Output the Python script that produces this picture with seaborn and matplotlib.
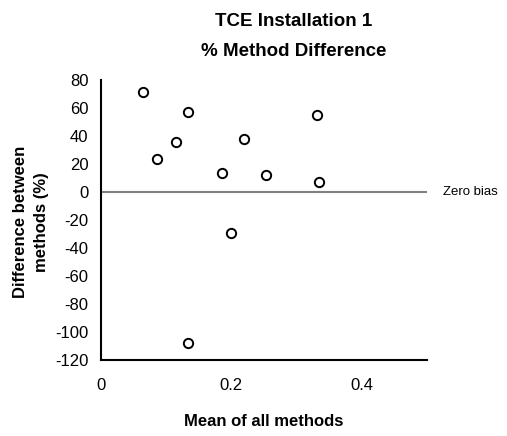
import numpy as np
import pandas as pd
import matplotlib
matplotlib.use("Agg")
import matplotlib.pyplot as plt
import seaborn as sns

# ==========================================================
# DATA
# ==========================================================

mean_of_methods = [0.064, 0.086, 0.115, 0.133, 0.186, 0.199,
                   0.219, 0.253, 0.332, 0.334, 0.133]

pct_difference = [71.4, 23.6, 35.3, 57.1, 13.1, -29.7,
                  37.9, 11.9, 54.8, 6.7, -107.6]

x_ticks = [0, 0.2, 0.4]
x_tick_labels = ["0", "0.2", "0.4"]
y_ticks = [-120, -100, -80, -60, -40, -20, 0, 20, 40, 60, 80]

df = pd.DataFrame({
    "mean": mean_of_methods,
    "diff": pct_difference
})

# ==========================================================
# STYLE
# ==========================================================

sns.set_style("white")
plt.rcParams["font.family"] = ["Liberation Sans", "DejaVu Sans"]
plt.rcParams["axes.unicode_minus"] = False
plt.rcParams["text.color"] = "black"
plt.rcParams["xtick.color"] = "black"
plt.rcParams["ytick.color"] = "black"
plt.rcParams["xtick.labelcolor"] = "black"
plt.rcParams["ytick.labelcolor"] = "black"

fig = plt.figure(figsize=(5.07, 4.36), dpi=100)

ax = fig.add_axes([
    101 / 507,
    1 - 360 / 436,
    (427 - 101) / 507,
    (360 - 79.7) / 436
])

# zero bias line
ax.axhline(0, color="#808080", lw=1.5, zorder=1)

sns.scatterplot(
    data=df,
    x="mean",
    y="diff",
    ax=ax,
    marker="o",
    s=45,
    facecolor="white",
    edgecolor="black",
    linewidth=1.4,
    zorder=3
)

ax.set_xlim(0, 0.5)
ax.set_ylim(-120, 80)

ax.set_xticks(x_ticks)
ax.set_xticklabels(x_tick_labels)
ax.set_yticks(y_ticks)

ax.tick_params(
    axis="both",
    direction="out",
    length=4,
    width=1.3,
    color="black",
    labelcolor="black",
    labelsize=12,
    pad=5
)
ax.tick_params(axis="x", pad=9)

for side in ["top", "right"]:
    ax.spines[side].set_visible(False)
for side in ["left", "bottom"]:
    ax.spines[side].set_color("black")
    ax.spines[side].set_linewidth(1.5)

ax.set_xlabel("")
ax.set_ylabel("")

# ==========================================================
# TEXT
# ==========================================================

fig.text(
    294 / 507, 1 - 22 / 436,
    "TCE Installation 1",
    ha="center", va="center",
    fontsize=13.5, fontweight="bold"
)

fig.text(
    294 / 507, 1 - 52 / 436,
    "% Method Difference",
    ha="center", va="center",
    fontsize=13.5, fontweight="bold"
)

fig.text(
    31 / 507, 1 - 222 / 436,
    "Difference between\nmethods (%)",
    ha="center", va="center",
    rotation=90,
    fontsize=12, fontweight="bold",
    linespacing=1.45
)

fig.text(
    264 / 507, 1 - 421 / 436,
    "Mean of all methods",
    ha="center", va="center",
    fontsize=12, fontweight="bold"
)

ax.text(
    0.525, 0,
    "Zero bias",
    ha="left", va="center",
    fontsize=9.5,
    clip_on=False
)

plt.savefig("out.png", dpi=100)
